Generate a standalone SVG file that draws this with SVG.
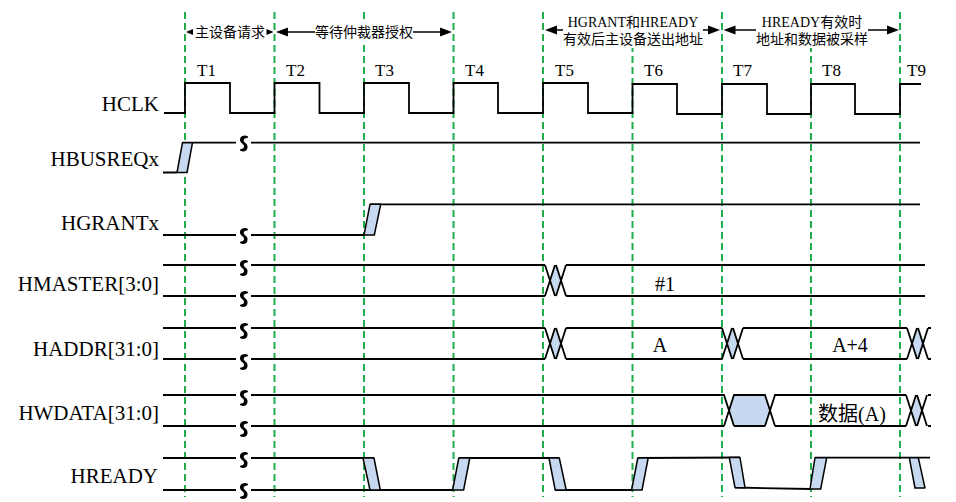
<svg xmlns="http://www.w3.org/2000/svg" xmlns:xlink="http://www.w3.org/1999/xlink" width="956" height="502" viewBox="0 0 956 502">
<style>
.sig{fill:none;stroke:#000;stroke-width:1.8}
.tr{fill:#c6d9f0;stroke:#000;stroke-width:1.5;stroke-linejoin:round}
.grid{stroke:#1fae4b;stroke-width:2;stroke-dasharray:7 4;fill:none}
.lbl{font-family:"Liberation Serif","Times New Roman",serif;font-size:21px;text-anchor:end;fill:#000}
.tk{font-family:"Liberation Serif","Times New Roman",serif;font-size:17px;fill:#000}
.ann{font-family:"Liberation Serif","Noto Sans CJK SC",serif;font-size:14px;text-anchor:middle;fill:#000}
.val{font-family:"Liberation Serif","Noto Sans CJK SC",serif;font-size:20px;text-anchor:middle;fill:#000}
.brk{fill:none;stroke:#000;stroke-width:2;stroke-linecap:round}
.arr{stroke:#000;stroke-width:1.5;fill:none}
.ah{fill:#000;stroke:none}
</style>
<defs>
<path id="brk" class="brk" d="M2,-7 C-3.5,-7 -3.5,-2.5 -0.5,-0.5 C2.5,1.5 2.5,6.5 -2.5,6.5 M3.5,-6.5 C-1.5,-6.5 -2,-2 1,0 C4,2 4,7 -1,7"/>
<g id="xx">
<polygon class="tr" points="5,15.5 10,0 11,0 16,15.5 11,31 10,31" style="stroke:none"/>
<path class="sig" d="M0,0 L10,31 M0,31 L10,0 M11,0 L21,31 M11,31 L21,0"/>
</g>
</defs>

<!-- clock grid lines -->
<g id="grid">
<line class="grid" x1="185" y1="12" x2="185" y2="497"/>
<line class="grid" x1="274.5" y1="12" x2="274.5" y2="497"/>
<line class="grid" x1="364" y1="12" x2="364" y2="497"/>
<line class="grid" x1="453.5" y1="12" x2="453.5" y2="497"/>
<line class="grid" x1="543" y1="12" x2="543" y2="497"/>
<line class="grid" x1="632.5" y1="12" x2="632.5" y2="497"/>
<line class="grid" x1="722" y1="12" x2="722" y2="497"/>
<line class="grid" x1="811" y1="12" x2="811" y2="497"/>
<line class="grid" x1="900" y1="12" x2="900" y2="497"/>
</g>

<!-- annotations -->
<g id="annotations">
<rect x="313" y="22" width="102" height="20" fill="#fff"/>
<rect x="560" y="10" width="146" height="38" fill="#fff"/>
<rect x="754" y="10" width="116" height="38" fill="#fff"/>
<polygon class="ah" points="186,32 193,29 193,35"/>
<polygon class="ah" points="273.5,32 266.5,29 266.5,35"/>
<text class="ann" x="230" y="37">主设备请求</text>
<line class="arr" x1="287" y1="32" x2="315" y2="32"/>
<line class="arr" x1="413" y1="32" x2="441" y2="32"/>
<polygon class="ah" points="276,32 288,27.5 288,36.5"/>
<polygon class="ah" points="452,32 440,27.5 440,36.5"/>
<text class="ann" x="364" y="37">等待仲裁器授权</text>
<line class="arr" x1="555" y1="30" x2="563" y2="30"/>
<line class="arr" x1="703" y1="30" x2="709" y2="30"/>
<polygon class="ah" points="545,30 557,25.5 557,34.5"/>
<polygon class="ah" points="720,30 708,25.5 708,34.5"/>
<text class="ann" x="633" y="27">HGRANT和HREADY</text>
<text class="ann" x="633" y="44">有效后主设备送出地址</text>
<line class="arr" x1="734" y1="30" x2="756" y2="30"/>
<line class="arr" x1="868" y1="30" x2="889" y2="30"/>
<polygon class="ah" points="723.5,30 735.5,25.5 735.5,34.5"/>
<polygon class="ah" points="899,30 887,25.5 887,34.5"/>
<text class="ann" x="812" y="27">HREADY有效时</text>
<text class="ann" x="812" y="44">地址和数据被采样</text>
</g>

<!-- HCLK -->
<g id="hclk">
<text class="lbl" x="159" y="111">HCLK</text>
<text class="tk" x="197" y="76">T1</text>
<text class="tk" x="286" y="76">T2</text>
<text class="tk" x="375" y="76">T3</text>
<text class="tk" x="465" y="76">T4</text>
<text class="tk" x="555" y="76">T5</text>
<text class="tk" x="644" y="76">T6</text>
<text class="tk" x="733" y="76">T7</text>
<text class="tk" x="822" y="76">T8</text>
<text class="tk" x="907" y="76">T9</text>
<polyline class="sig" points="164,113 185,113 185,83 230,83 230,113 274.5,113 274.5,83 319.5,83 319.5,113 364,113 364,83 409,83 409,113 453.5,113 453.5,83 498,83 498,113 543,113 543,83 588,83 588,113 632.5,113 632.5,84 677,84 677,114 722,114 722,84 767,84 767,114 811,114 811,84 855,84 855,114 900,114 900,84 921,84"/>
</g>

<!-- HBUSREQx -->
<g id="hbusreq">
<text class="lbl" x="159" y="166">HBUSREQx</text>
<path class="sig" d="M163,172.5 H177 M182.5,142.7 H236 M251,142.7 H920"/>
<polygon class="tr" points="177,172.5 187,172.5 192.5,142.7 182.5,142.7"/>
<use xlink:href="#brk" href="#brk" x="243.5" y="143.5"/>
</g>

<!-- HGRANTx -->
<g id="hgrant">
<text class="lbl" x="159" y="230">HGRANTx</text>
<path class="sig" d="M163,235 H236 M251,235 H364 M370,204.3 H920"/>
<polygon class="tr" points="364,235 374.3,235 380.7,204.3 370,204.3"/>
<use xlink:href="#brk" href="#brk" x="243.5" y="236"/>
</g>

<!-- HMASTER -->
<g id="hmaster">
<text class="lbl" x="159" y="291">HMASTER[3:0]</text>
<path class="sig" d="M163,265 H236 M251,265 H545 M566,265 H925 M163,296 H236 M251,296 H545 M566,296 H925"/>
<use xlink:href="#xx" href="#xx" x="545" y="265"/>
<use xlink:href="#brk" href="#brk" x="243.5" y="268"/>
<use xlink:href="#brk" href="#brk" x="243.5" y="299"/>
<text class="val" x="665" y="291">#1</text>
</g>

<!-- HADDR -->
<g id="haddr">
<text class="lbl" x="159" y="356">HADDR[31:0]</text>
<path class="sig" d="M163,328 H236 M251,328 H545 M566,328 H722 M743,328 H907 M928,328 H931 M163,359 H236 M251,359 H545 M566,359 H722 M743,359 H907 M928,359 H931"/>
<use xlink:href="#xx" href="#xx" x="545" y="328"/>
<use xlink:href="#xx" href="#xx" x="722" y="328"/>
<use xlink:href="#xx" href="#xx" x="907" y="328"/>
<use xlink:href="#brk" href="#brk" x="243.5" y="331"/>
<use xlink:href="#brk" href="#brk" x="243.5" y="362"/>
<text class="val" x="660" y="352">A</text>
<text class="val" x="850" y="352">A+4</text>
</g>

<!-- HWDATA -->
<g id="hwdata">
<text class="lbl" x="159" y="420">HWDATA[31:0]</text>
<polygon class="tr" points="729,410.5 734,395 765,395 770,410.5 765,426 734,426" style="stroke:none"/>
<path class="sig" d="M163,395 H236 M251,395 H724 L734,426 M724,426 L734,395 H765 L775,426 M765,426 L775,395 H906 M928,395 H931 M163,426 H236 M251,426 H724 M734,426 H765 M775,426 H906 M928,426 H931"/>
<use xlink:href="#xx" href="#xx" x="906" y="395"/>
<use xlink:href="#brk" href="#brk" x="243.5" y="398"/>
<use xlink:href="#brk" href="#brk" x="243.5" y="429"/>
<text class="val" x="852" y="421">数据(A)</text>
</g>

<!-- HREADY -->
<g id="hready">
<text class="lbl" x="158" y="483">HREADY</text>
<path class="sig" d="M163,458 H236 M251,458 H374 M163,490 H236 M251,490 H452.6 M458.8,458 H559.3 M555.2,490 H631.6 M637.8,458 L740,457.5 M735,487.5 L810,489 M815,457.7 H930"/>
<polygon class="tr" points="363,458 374,458 380.3,490 370,490"/>
<polygon class="tr" points="452.6,490 463.6,490 469.8,458 458.8,458"/>
<polygon class="tr" points="549,458 559.3,458 566.2,490 555.2,490"/>
<polygon class="tr" points="631.6,490 642,490 648.2,458 637.8,458"/>
<polygon class="tr" points="729.3,457.6 740,457.5 745,487.7 735,487.5"/>
<polygon class="tr" points="810,489 820.7,489 826.7,457.7 815,457.7"/>
<polygon class="tr" points="909.3,457.7 918.3,457.7 925,488 915,488"/>
<use xlink:href="#brk" href="#brk" x="243.5" y="460"/>
<use xlink:href="#brk" href="#brk" x="243.5" y="491"/>
</g>
</svg>
